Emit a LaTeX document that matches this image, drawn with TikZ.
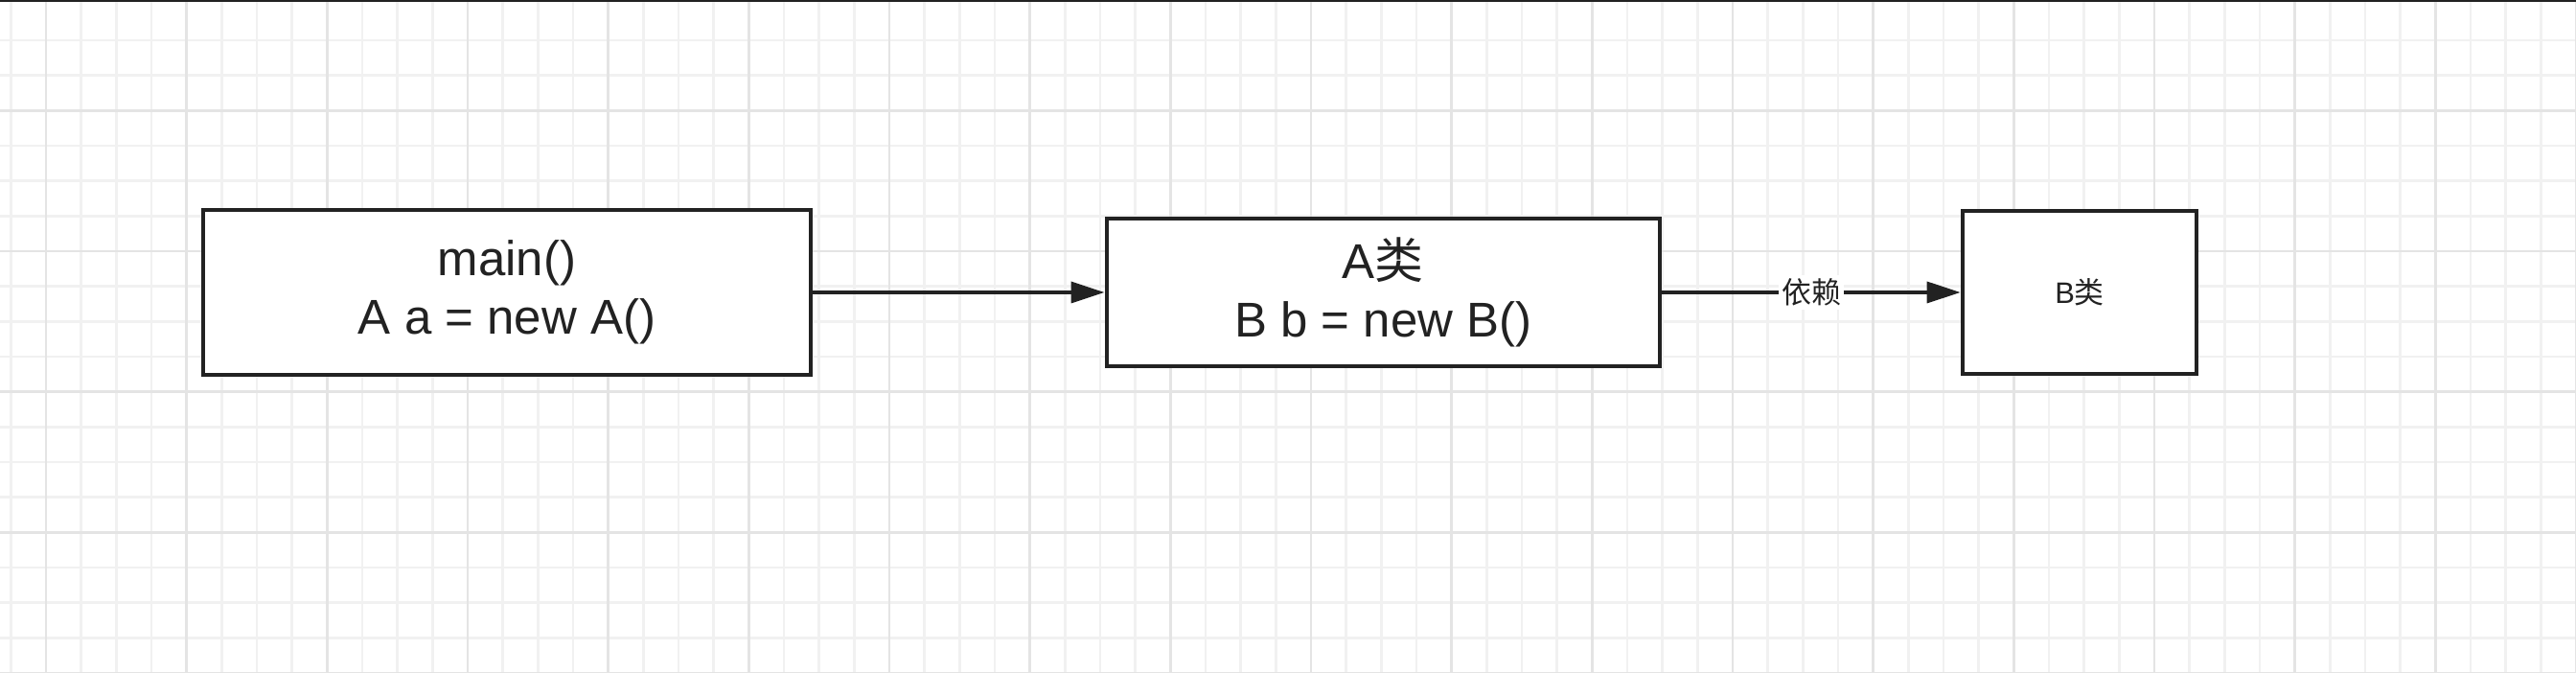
\documentclass[tikz,border=0pt]{standalone}
\usepackage{fontspec}
\setmainfont{Liberation Sans}
\newfontfamily\cjk{Noto Sans CJK SC}
\usetikzlibrary{arrows.meta, positioning}

\begin{document}
\begin{tikzpicture}
% --- cores da grade e das caixas ---
\definecolor{gridminor}{HTML}{F1F1F1}
\definecolor{gridmajor}{HTML}{E4E4E4}
\definecolor{ink}{HTML}{222222}
\tikzset{
  classbox/.style={draw=ink, line width=0.04cm, fill=white, inner sep=0pt, align=center, text=ink},
  bigtext/.style={font=\fontsize{14.5}{17.4}\selectfont},
  smalltext/.style={font=\fontsize{8.8}{10.6}\selectfont},
  dep/.style={draw=ink, line width=0.035cm, -{Triangle[length=0.35cm, width=0.22cm]}},
}
\useasboundingbox (0,0) rectangle (26.88,7.02);

% LAYER 1: fundo e grade
\fill[white] (0,0) rectangle (26.88,7.02);
\foreach \i in {0,...,72}
  \draw[gridminor, line width=0.025cm] ({0.113+\i*0.36667},0) -- ({0.113+\i*0.36667},7.02);
\foreach \j in {0,...,18}
  \draw[gridminor, line width=0.025cm] (0,{\j*0.36667}) -- (26.88,{\j*0.36667});
\foreach \i in {0,...,18}
  \draw[gridmajor, line width=0.025cm] ({0.48+\i*1.46667},0) -- ({0.48+\i*1.46667},7.02);
\foreach \j in {0,...,4}
  \draw[gridmajor, line width=0.025cm] (0,{\j*1.46667}) -- (26.88,{\j*1.46667});
\fill[ink] (0,6.995) rectangle (26.88,7.02); % borda de cima

% LAYER 2: caixas
\node[classbox, bigtext, minimum width=6.337cm, minimum height=1.714cm] (main) at (5.29,3.97) {main()\\A a = new A()};
\node[classbox, bigtext, minimum width=5.778cm, minimum height=1.536cm] (classA) at (14.434,3.97) {A{\cjk 类}\\B b = new B()};
\node[classbox, smalltext, minimum width=2.447cm, minimum height=1.707cm] (classB) at (21.70,3.97) {B{\cjk 类}};

% LAYER 3: setas
\draw[dep] (main.east) -- (classA.west);
\draw[dep] (classA.east) -- node[fill=white, inner sep=1pt, smalltext, text=ink] (deplabel) {\cjk 依赖} (classB.west);
\end{tikzpicture}
\end{document}
